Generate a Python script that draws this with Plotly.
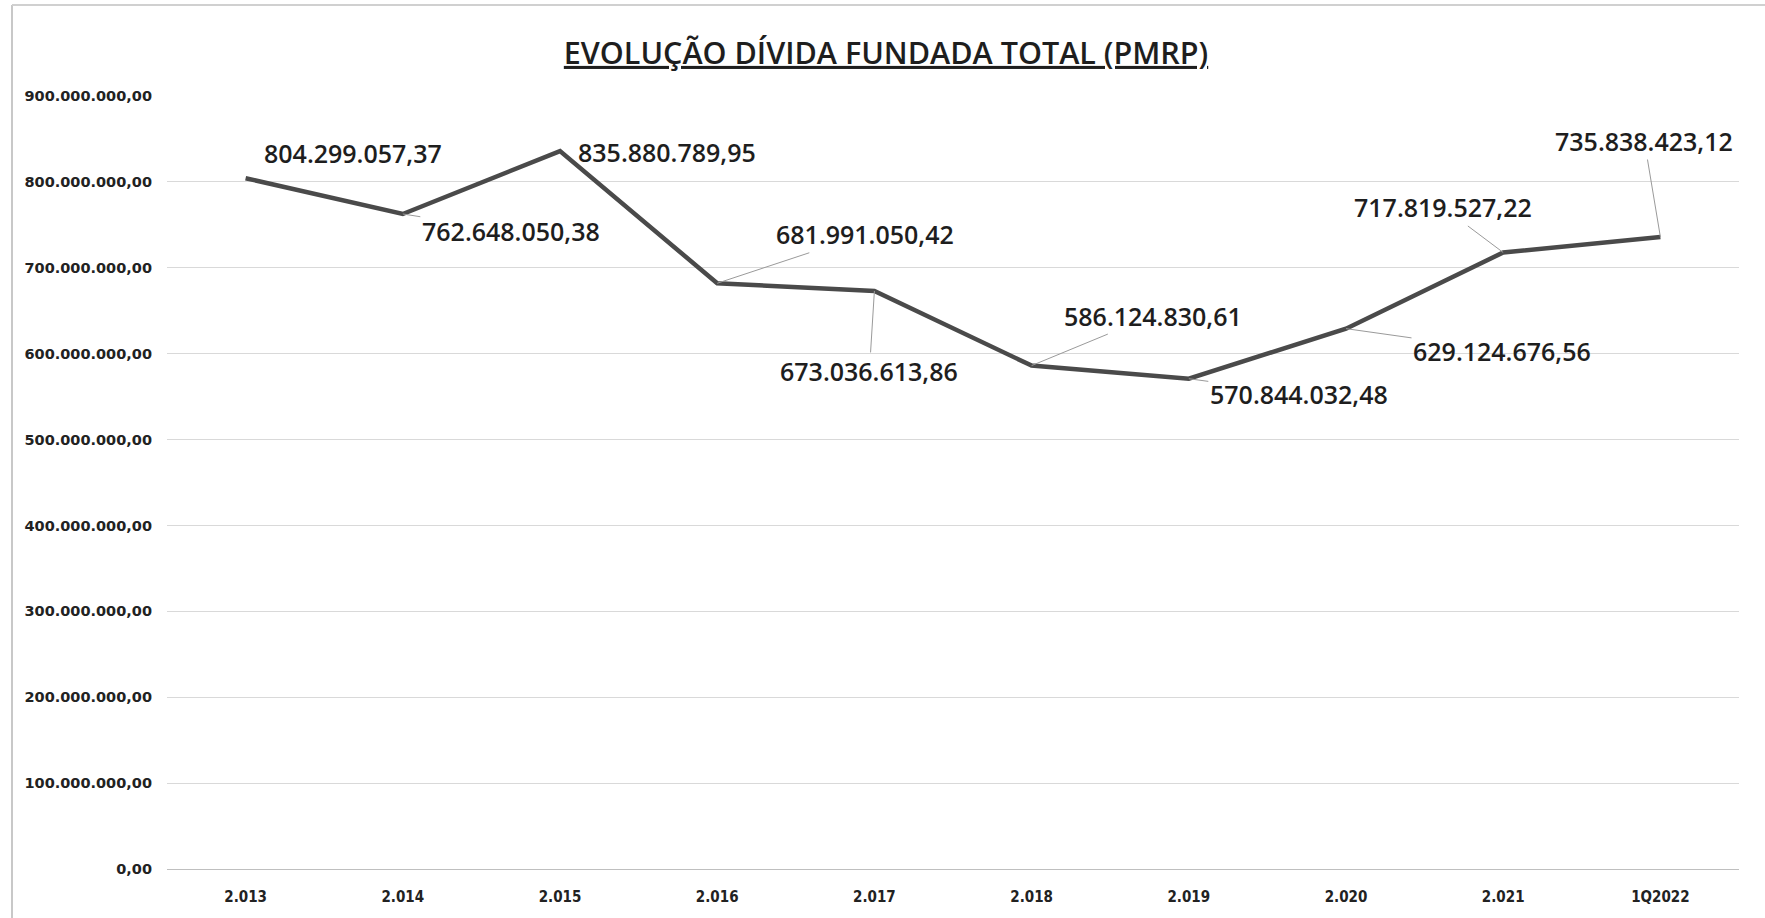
import plotly.graph_objects as go

categories = ["2.013", "2.014", "2.015", "2.016", "2.017", "2.018", "2.019", "2.020", "2.021", "1Q2022"]
values = [804299057.37, 762648050.38, 835880789.95, 681991050.42, 673036613.86,
          586124830.61, 570844032.48, 629124676.56, 717819527.22, 735838423.12]
value_labels = ["804.299.057,37", "762.648.050,38", "835.880.789,95", "681.991.050,42", "673.036.613,86",
                "586.124.830,61", "570.844.032,48", "629.124.676,56", "717.819.527,22", "735.838.423,12"]
y_ticks = [0, 100e6, 200e6, 300e6, 400e6, 500e6, 600e6, 700e6, 800e6, 900e6]
y_tick_labels = ["0,00", "100.000.000,00", "200.000.000,00", "300.000.000,00", "400.000.000,00",
                 "500.000.000,00", "600.000.000,00", "700.000.000,00", "800.000.000,00", "900.000.000,00"]

# label offsets (pixels) relative to each point, and whether a leader line is drawn
label_offsets = [(107, -25), (108, 17), (107, 1), (148, -49), (-5, 80),
                 (121, -50), (110, 15), (156, 22), (-60, -45), (-16, -96)]
leader = [False, True, False, True, True, True, True, True, True, True]

fig = go.Figure()
fig.add_trace(go.Scatter(
    x=categories, y=values, mode="lines",
    line=dict(color="#4a4a4a", width=4.5),
    hoverinfo="skip", showlegend=False,
))

for i, (v, lab, (dx, dy), ld) in enumerate(zip(values, value_labels, label_offsets, leader)):
    fig.add_annotation(
        x=i, y=v, text=lab, showarrow=True, ax=dx, ay=dy,
        arrowhead=0, arrowwidth=1,
        arrowcolor="#9a9a9a" if ld else "rgba(0,0,0,0)",
        standoff=0,
        font=dict(family="Open Sans", size=25, color="#1e1e1e", weight=600),
    )

fig.update_layout(
    width=1765, height=918,
    margin=dict(l=167, r=26, t=96, b=49),
    paper_bgcolor="white", plot_bgcolor="white",
    title=dict(
        text="<u>EVOLUÇÃO DÍVIDA FUNDADA TOTAL (PMRP)</u>",
        x=0.502, xanchor="center", y=0.942, yanchor="middle",
        font=dict(family="Open Sans", size=30.5, color="#1e1e1e", weight=600),
    ),
    xaxis=dict(
        type="category", range=[-0.5, 9.5], showgrid=False, zeroline=False, showline=False,
        ticks="outside", ticklen=14, tickcolor="rgba(0,0,0,0)",
        tickfont=dict(family="DejaVu Sans Condensed", size=15, color="#222", weight="bold"),
    ),
    yaxis=dict(
        range=[0, 900e6], tickvals=y_ticks, ticktext=y_tick_labels,
        showgrid=True, gridcolor="#d9d9d9", gridwidth=1,
        zeroline=True, zerolinecolor="#bfbfbf", zerolinewidth=1,
        showline=False, ticks="", ticklabelstandoff=14,
        tickfont=dict(family="DejaVu Sans", size=14.5, color="#222", weight="bold"),
    ),
    shapes=[
        dict(type="line", xref="paper", yref="paper",
             x0=-155/1572, x1=-155/1572, y0=-49/773, y1=1 + 91/773,
             line=dict(color="#c8c8c8", width=2)),
        dict(type="line", xref="paper", yref="paper",
             x0=-155/1572, x1=1 + 26/1572, y0=1 + 91/773, y1=1 + 91/773,
             line=dict(color="#d0d0d0", width=2)),
    ],
)

fig.write_html("out.html", config={"displayModeBar": False},
               post_script="document.body.style.margin='0';")
